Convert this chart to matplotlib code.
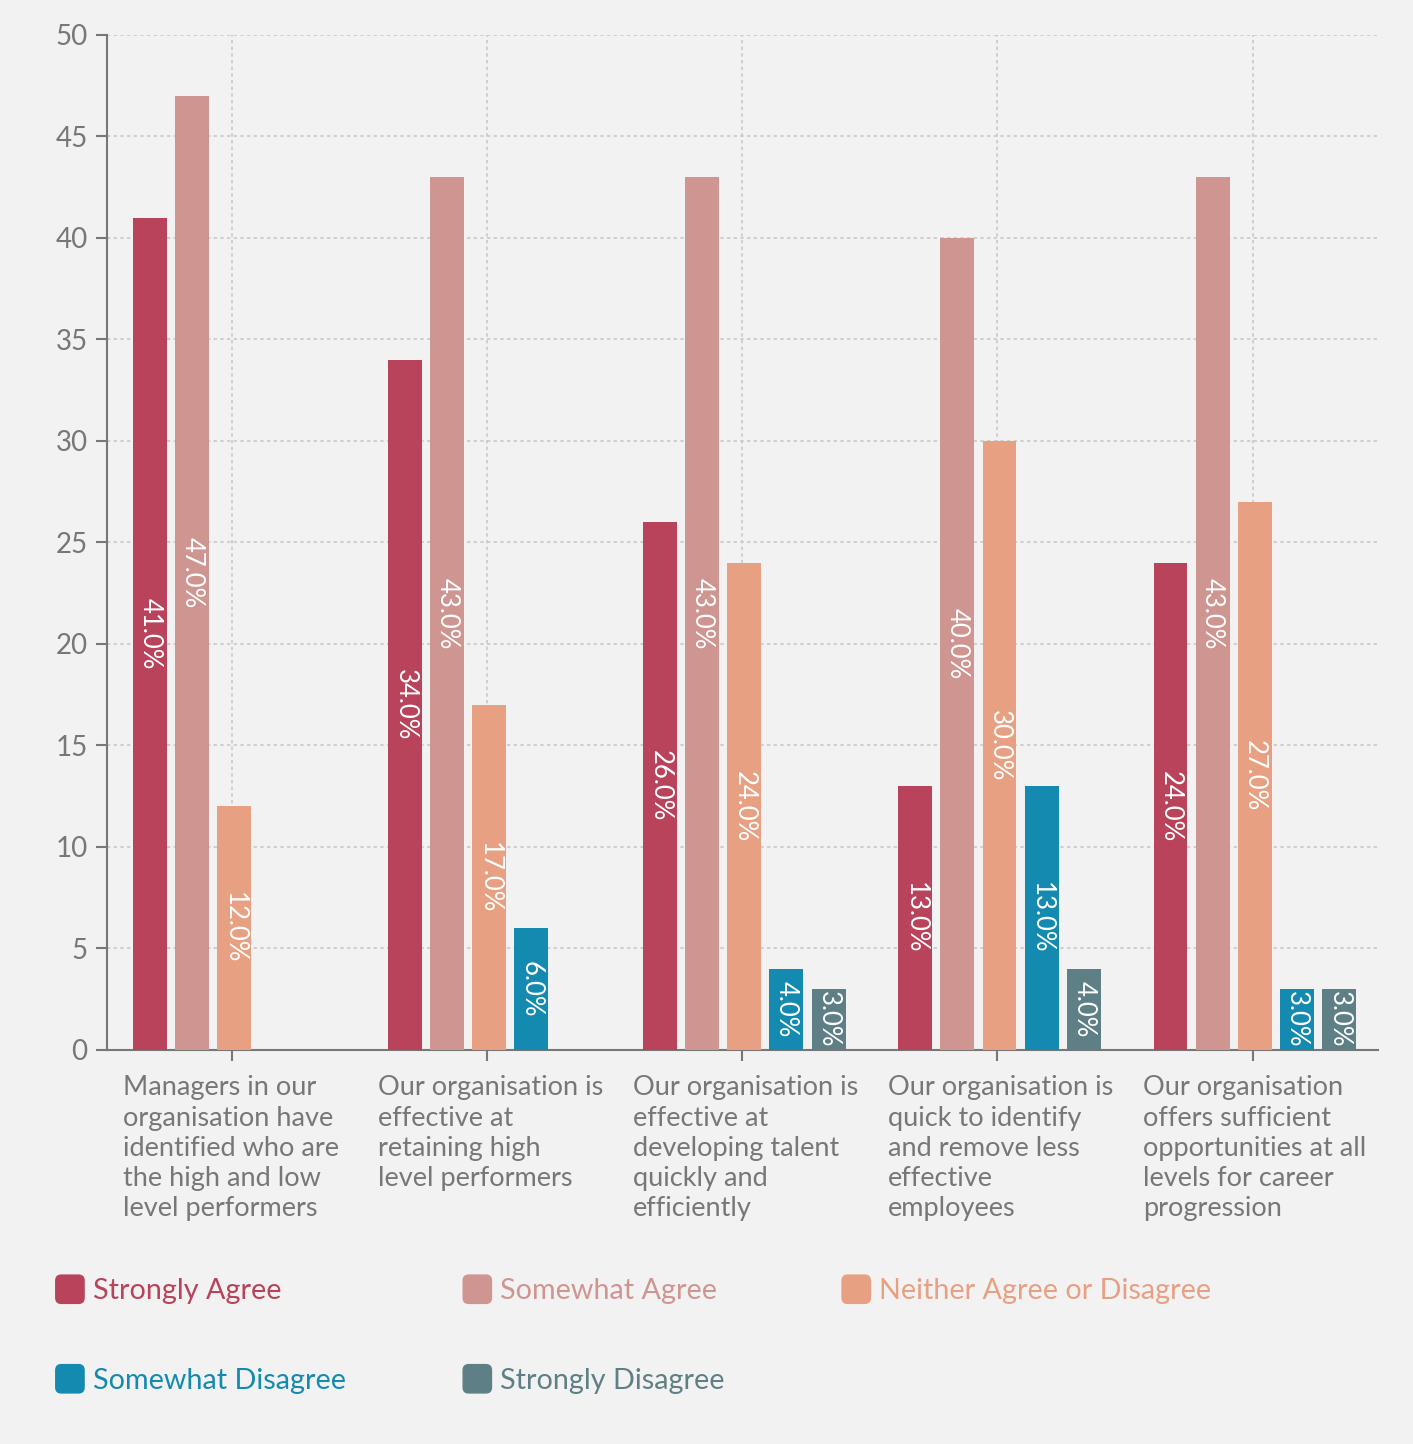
import matplotlib
matplotlib.use("Agg")
import matplotlib.pyplot as plt
import numpy as np
from matplotlib.patches import FancyBboxPatch, Patch
from matplotlib.legend_handler import HandlerPatch

plt.rcParams['font.family'] = ['Lato', 'DejaVu Sans']

# data
categories = [
    "Managers in our\norganisation have\nidentified who are\nthe high and low\nlevel performers",
    "Our organisation is\neffective at\nretaining high\nlevel performers",
    "Our organisation is\neffective at\ndeveloping talent\nquickly and\nefficiently",
    "Our organisation is\nquick to identify\nand remove less\neffective\nemployees",
    "Our organisation\noffers sufficient\nopportunities at all\nlevels for career\nprogression",
]
series_names = ["Strongly Agree", "Somewhat Agree", "Neither Agree or Disagree",
                "Somewhat Disagree", "Strongly Disagree"]
strongly_agree = [41, 34, 26, 13, 24]
somewhat_agree = [47, 43, 43, 40, 43]
neither = [12, 17, 24, 30, 27]
somewhat_disagree = [0, 6, 4, 13, 3]
strongly_disagree = [0, 0, 3, 4, 3]
colors = ["#b8435a", "#cf9591", "#e8a083", "#148ab0", "#5f7f87"]
yticks = [0, 5, 10, 15, 20, 25, 30, 35, 40, 45, 50]

series = [strongly_agree, somewhat_agree, neither, somewhat_disagree, strongly_disagree]

bg = "#f2f2f2"
grey = "#777777"

fig = plt.figure(figsize=(14.13, 14.44), dpi=100, facecolor=bg)
ax = fig.add_axes([0.0757, 0.2729, 0.8993, 0.7029])
ax.set_facecolor(bg)

x = np.arange(len(categories))
step = 0.165
width = 0.133
for i, (vals, col) in enumerate(zip(series, colors)):
    bars = ax.bar(x + (i - 2) * step + 0.008, vals, width, color=col,
                  label=series_names[i], zorder=3)
    labels = ["%.1f%%" % v if v > 0 else "" for v in vals]
    ax.bar_label(bars, labels=labels, label_type='center', rotation=-90,
                 color='white', fontsize=18.5)

ax.set_xlim(-0.49, 4.49)
ax.set_ylim(0, 50)
ax.set_yticks(yticks)
ax.set_xticks(x)
ax.set_xticklabels([])
ax.tick_params(axis='y', labelsize=20, labelcolor=grey, color=grey, length=8, width=1.5, pad=6)
ax.tick_params(axis='x', color=grey, length=8, width=1.5)
for s in ['top', 'right']:
    ax.spines[s].set_visible(False)
for s in ['left', 'bottom']:
    ax.spines[s].set_color(grey)
    ax.spines[s].set_linewidth(1.5)
ax.grid(True, color="#c8c8c8", linestyle=(0, (2, 2)), linewidth=1.2, zorder=0)
ax.set_axisbelow(True)

for xi, lab in zip(x, categories):
    ax.text(xi - 0.428, -0.025, lab, transform=ax.get_xaxis_transform(),
            ha='left', va='top', fontsize=19.5, color=grey, linespacing=1.26)


def make_box(legend, orig_handle, xdescent, ydescent, width, height, fontsize):
    s = height * 1.1
    return FancyBboxPatch((-xdescent + (width - s) / 2, -ydescent + (height - s) / 2), s, s,
                          boxstyle="round,pad=0,rounding_size=4")


handles = [Patch(color=c) for c in colors]
order = [0, 3, 1, 4, 2]
leg = fig.legend([handles[i] for i in order], [series_names[i] for i in order],
                 ncol=3, loc='upper left', bbox_to_anchor=(0.021, 0.134),
                 frameon=False, fontsize=20.7, handlelength=1.0, handleheight=1.0,
                 handletextpad=0.3, columnspacing=4.07, labelspacing=2.15,
                 handler_map={Patch: HandlerPatch(patch_func=make_box)})
for txt, i in zip(leg.get_texts(), order):
    txt.set_color(colors[i])

fig.savefig("out.png", dpi=100, facecolor=bg)
